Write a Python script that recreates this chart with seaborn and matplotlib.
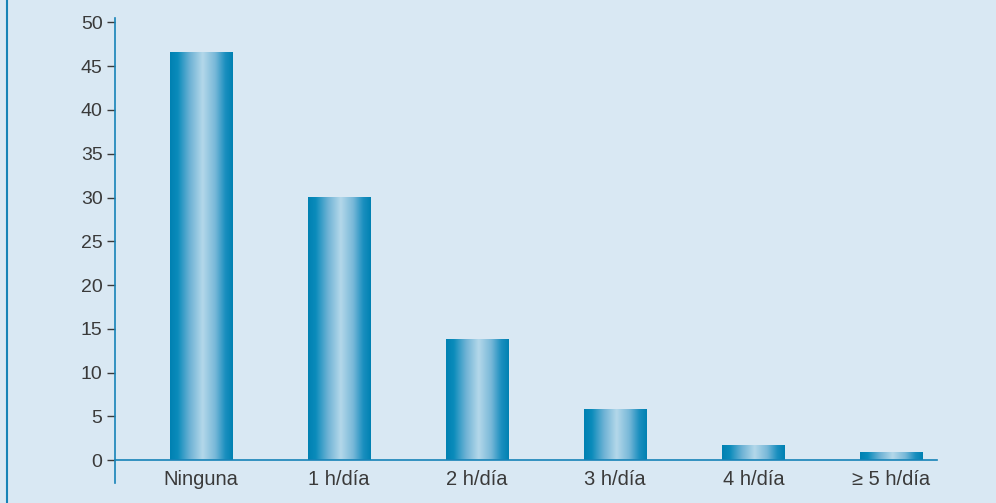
import numpy as np
import pandas as pd
import matplotlib
matplotlib.use("Agg")
import matplotlib.pyplot as plt
from matplotlib.colors import LinearSegmentedColormap
from matplotlib.lines import Line2D
import seaborn as sns

categories = ["Ninguna", "1 h/día", "2 h/día", "3 h/día", "4 h/día", "≥ 5 h/día"]
values = [46.6, 30.1, 13.8, 5.9, 1.7, 0.9]
yticks = [0, 5, 10, 15, 20, 25, 30, 35, 40, 45, 50]

BG = "#d9e8f3"
BLUE = "#1683b7"
TEXT = "#3a3a3a"

sns.set_theme(style="white")
plt.rcParams["font.family"] = ["Liberation Sans", "DejaVu Sans"]

fig = plt.figure(figsize=(9.96, 5.03), dpi=100, facecolor=BG)
ax = fig.add_axes([115 / 996, 1 - 483 / 503, (937 - 115) / 996, (483 - 18) / 503])
ax.set_facecolor(BG)

df = pd.DataFrame({"cat": categories, "val": values})
sns.barplot(data=df, x="cat", y="val", order=categories, width=0.45,
            color="#0a86b8", edgecolor="none", linewidth=0, ax=ax)

ax.set_xlim(-0.623, 5.33)
ax.set_ylim(-2.6, 50.5)

# horizontal metallic gradient painted inside each bar
grad = LinearSegmentedColormap.from_list(
    "bar_grad",
    [(0.0, "#0081b2"), (0.12, "#0a8bbb"), (0.32, "#6fb3d5"),
     (0.52, "#b4d8ea"), (0.72, "#78b8d8"), (0.88, "#1a8fbf"), (1.0, "#0081b2")])
gradient = np.linspace(0, 1, 256).reshape(1, -1)
for patch in list(ax.patches):
    x0, y0 = patch.get_x(), patch.get_y()
    w, h = patch.get_width(), patch.get_height()
    im = ax.imshow(gradient, cmap=grad, aspect="auto",
                   extent=[x0, x0 + w, y0 - 0.25, y0 + h],
                   interpolation="bicubic", zorder=patch.get_zorder() + 0.1)
    im.set_clip_path(patch)

# the bottom spine becomes the zero baseline; category labels hang under it
for side in ("top", "right"):
    ax.spines[side].set_visible(False)
ax.spines["bottom"].set_position(("data", 0))
ax.spines["bottom"].set_color(BLUE)
ax.spines["bottom"].set_linewidth(1.2)
ax.spines["bottom"].set_zorder(5)
ax.spines["left"].set_color(BLUE)
ax.spines["left"].set_linewidth(1.2)

ax.set_yticks(yticks)
ax.set_yticklabels([str(t) for t in yticks])
ax.tick_params(axis="y", direction="out", length=6, width=1.0, color=TEXT,
               labelsize=14, labelcolor=TEXT, pad=3, left=True)
for lbl in ax.get_yticklabels():
    lbl.set_family(["Liberation Sans Narrow", "Liberation Sans", "DejaVu Sans"])
ax.tick_params(axis="x", length=0, labelsize=14.5, labelcolor=TEXT, pad=7)
ax.set_xlabel("")
ax.set_ylabel("")

# frame line along the left edge of the figure
fig.add_artist(Line2D([7 / 996, 7 / 996], [0, 1], transform=fig.transFigure,
                      color=BLUE, linewidth=1.5))

fig.savefig("out.png", dpi=100, facecolor=BG)
